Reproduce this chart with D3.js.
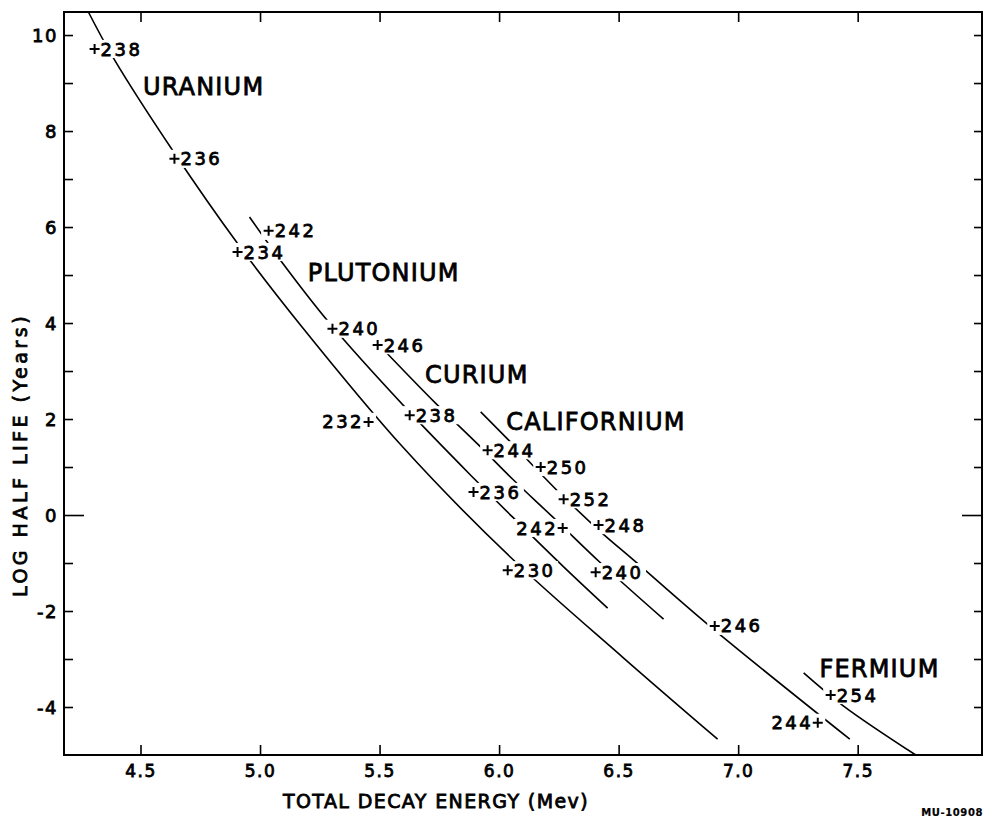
<!DOCTYPE html>
<html><head><meta charset="utf-8">
<script src="https://cdn.jsdelivr.net/npm/d3@7"></script>
<style>
body{margin:0;background:#fff;}
svg{display:block;}
text{font-family:"DejaVu Sans",sans-serif;fill:#000;stroke:#000;stroke-width:0.8px;}
</style></head><body>
<svg id="chart" width="986" height="818"></svg>
<script>
// ---------- data ----------
const xTickValues = [4.5, 5.0, 5.5, 6.0, 6.5, 7.0, 7.5];
const xTickLabels = ["4.5", "5.0", "5.5", "6.0", "6.5", "7.0", "7.5"];
const yTickValues = [-4, -3, -2, -1, 0, 1, 2, 3, 4, 5, 6, 7, 8, 9, 10];
const yTickLabels = ["-4", "", "-2", "", "0", "", "2", "", "4", "", "6", "", "8", "", "10"];

const elementNames = ["URANIUM", "PLUTONIUM", "CURIUM", "CALIFORNIUM", "FERMIUM"];
const elementLabelEnergy = [4.51, 5.20, 5.69, 6.03, 7.34];
const elementLabelLogT = [8.75, 4.88, 2.75, 1.77, -3.38];

const uraniumCurve = [[4.282,10.48],[4.387,9.52],[4.634,7.60],[4.910,5.63],[5.169,3.96],[5.600,1.40],[6.048,-0.88],[6.521,-2.98],[6.914,-4.67]];
const plutoniumCurve = [[4.956,6.21],[5.094,5.25],[5.287,4.02],[5.617,2.19],[5.897,0.75],[6.056,-0.04],[6.270,-1.08],[6.454,-1.94]];
const curiumCurve = [[5.529,3.38],[5.734,2.33],[5.914,1.46],[6.056,0.75],[6.224,-0.04],[6.425,-1.00],[6.688,-2.17]];
const californiumCurve = [[5.923,2.15],[6.040,1.56],[6.249,0.48],[6.425,-0.35],[6.563,-0.94],[6.885,-2.33],[7.467,-4.67]];
const fermiumCurve = [[7.274,-3.29],[7.441,-3.98],[7.743,-5.00]];

const uraniumMass = [238, 236, 234, 232, 230];
const uraniumEnergy = [4.308, 4.642, 4.906, 5.454, 6.036];
const uraniumLogT = [9.71, 7.42, 5.48, 1.94, -1.15];
const plutoniumMass = [242, 240, 238, 236];
const plutoniumEnergy = [5.036, 5.303, 5.626, 5.893];
const plutoniumLogT = [5.92, 3.88, 2.08, 0.48];
const curiumMass = [246, 244, 242, 240];
const curiumEnergy = [5.492, 5.952, 6.266, 6.404];
const curiumLogT = [3.54, 1.35, -0.27, -1.19];
const californiumMass = [250, 252, 248, 246, 244];
const californiumEnergy = [6.174, 6.270, 6.416, 6.902, 7.333];
const californiumLogT = [1.00, 0.33, -0.21, -2.31, -4.33];
const fermiumMass = [254];
const fermiumEnergy = [7.387];
const fermiumLogT = [-3.75];
// isotopes whose number is written left of the marker
const leftLabelled = ["U232", "Cm242", "Cf244"];

const xTitle = "TOTAL DECAY ENERGY (Mev)";
const yTitle = "LOG HALF LIFE (Years)";
const figureCode = "MU-10908";

// ---------- layout ----------
const svg = d3.select("#chart");
const L = 64, R = 982, T = 12, B = 755;
const x = d3.scaleLinear().domain([4.18, 8.02]).range([L, R]);
const y = d3.scaleLinear().domain([-5, 10.48]).range([B, T]);

// axes
const gLeft = svg.append("g").attr("transform", `translate(${L},0)`)
  .call(d3.axisLeft(y).tickValues(yTickValues).tickSize(-9).tickPadding(6)
    .tickFormat((d, i) => yTickLabels[i]));
const gRight = svg.append("g").attr("transform", `translate(${R},0)`)
  .call(d3.axisRight(y).tickValues(yTickValues).tickSize(-8).tickFormat(""));
const gBottom = svg.append("g").attr("transform", `translate(0,${B})`)
  .call(d3.axisBottom(x).tickValues(xTickValues).tickSize(-10).tickPadding(10)
    .tickFormat((d, i) => xTickLabels[i]));
const gTop = svg.append("g").attr("transform", `translate(0,${T})`)
  .call(d3.axisTop(x).tickValues(xTickValues).tickSize(-10).tickFormat(""));
[gLeft, gRight, gBottom, gTop].forEach(g => {
  g.select(".domain").remove();
  g.selectAll(".tick line").attr("stroke", "#000").attr("stroke-width", 1.6);
});
gLeft.selectAll(".tick").filter(d => d === 0).select("line").attr("x2", 20);
gRight.selectAll(".tick").filter(d => d === 0).select("line").attr("x2", -20);
gLeft.selectAll(".tick text").attr("font-size", 18).attr("letter-spacing", 1.5)
  .style("font-family", "DejaVu Sans").attr("dy", "0.36em");
gBottom.selectAll(".tick text").attr("font-size", 17).attr("letter-spacing", 1.5)
  .style("font-family", "DejaVu Sans");

svg.append("rect").attr("x", L).attr("y", T).attr("width", R - L).attr("height", B - T)
  .attr("fill", "none").attr("stroke", "#000").attr("stroke-width", 2);

// titles
svg.append("text").attr("x", 436).attr("y", 808).attr("text-anchor", "middle")
  .attr("font-size", 19).attr("letter-spacing", 1.4).text(xTitle);
svg.append("text").attr("transform", "translate(27,455) rotate(-90)").attr("text-anchor", "middle")
  .attr("font-size", 19).attr("letter-spacing", 3.5).text(yTitle);
svg.append("text").attr("x", 983).attr("y", 816).attr("text-anchor", "end")
  .attr("font-size", 10).attr("font-weight", "bold").attr("letter-spacing", 0.6)
  .style("stroke-width", "0.2px").text(figureCode);

// curves
const line = d3.line().x(d => x(d[0])).y(d => y(d[1])).curve(d3.curveCatmullRom.alpha(0.5));
const gCurves = svg.append("g");
[uraniumCurve, plutoniumCurve, curiumCurve, californiumCurve, fermiumCurve].forEach(c => {
  gCurves.append("path").attr("d", line(c)).attr("fill", "none")
    .attr("stroke", "#000").attr("stroke-width", 1.6);
});

const gMask = svg.append("g");
const gLabels = svg.append("g");

// element names
elementNames.forEach((n, i) => {
  gLabels.append("text").attr("x", x(elementLabelEnergy[i])).attr("y", y(elementLabelLogT[i]))
    .attr("font-size", 24).attr("letter-spacing", 1.2).text(n);
});

// isotopes
const series = [
  ["U", uraniumMass, uraniumEnergy, uraniumLogT],
  ["Pu", plutoniumMass, plutoniumEnergy, plutoniumLogT],
  ["Cm", curiumMass, curiumEnergy, curiumLogT],
  ["Cf", californiumMass, californiumEnergy, californiumLogT],
  ["Fm", fermiumMass, fermiumEnergy, fermiumLogT]
];
const fs = 18, cap = 0.73 * fs, hs = 5, pad = 2.5, ls = 2.5;
series.forEach(([sym, mass, en, lt]) => {
  mass.forEach((m, i) => {
    const px = x(en[i]), py = y(lt[i]);
    const left = leftLabelled.includes(sym + m);
    const t = gLabels.append("text")
      .attr("x", left ? px - 7 + ls : px + 6)
      .attr("y", py + cap / 2)
      .attr("text-anchor", left ? "end" : "start")
      .attr("font-size", fs).attr("letter-spacing", ls).text(m);
    gLabels.append("path")
      .attr("d", `M${px - hs},${py}H${px + hs}M${px},${py - hs}V${py + hs}`)
      .attr("stroke", "#000").attr("stroke-width", 2);
    const bb = t.node().getBBox();
    const x0 = Math.min(bb.x, px - hs) - pad, x1 = Math.max(bb.x + bb.width, px + hs) + pad;
    const y0 = py - cap / 2 - pad, y1 = py + cap / 2 + pad;
    gMask.append("rect").attr("x", x0).attr("y", y0).attr("width", x1 - x0).attr("height", y1 - y0)
      .attr("fill", "#fff");
  });
});
</script>
</body></html>
